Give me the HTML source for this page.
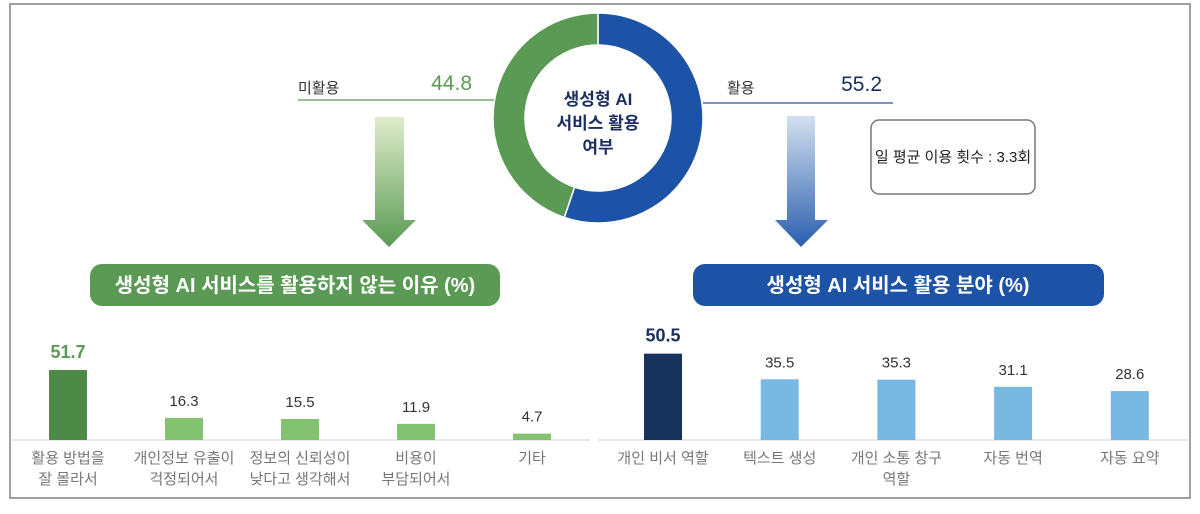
<!DOCTYPE html>
<html><head><meta charset="utf-8"><style>
html,body{margin:0;padding:0;background:#fff;}
body{width:1200px;height:509px;overflow:hidden;font-family:"Liberation Sans","Noto Sans CJK KR",sans-serif;}
</style></head><body>
<svg id="chart" width="1200" height="509" viewBox="0 0 1200 509" xmlns="http://www.w3.org/2000/svg" font-family="Liberation Sans, Noto Sans CJK KR, sans-serif">
<defs>
<linearGradient id="gg" x1="0" y1="0" x2="0" y2="1"><stop offset="0" stop-color="#dfeccb"/><stop offset="1" stop-color="#5b9a55"/></linearGradient>
<linearGradient id="bg" x1="0" y1="0" x2="0" y2="1"><stop offset="0" stop-color="#d3e0f0"/><stop offset="1" stop-color="#2a5eae"/></linearGradient>
</defs>
<rect x="10" y="4" width="1180" height="494" fill="#fff" stroke="#808080" stroke-width="1.5"/>
<g id="donut"></g>
<g fill="#1b2f5e" font-size="17" font-weight="bold" text-anchor="middle">
<text x="598" y="105">생성형 AI</text><text x="598" y="129">서비스 활용</text><text x="598" y="153">여부</text>
</g>
<g>
<text x="298" y="93" font-size="15" fill="#333">미활용</text>
<text x="472" y="90" font-size="21" fill="#5b9a55" text-anchor="end">44.8</text>
<line x1="298" y1="100" x2="494" y2="100" stroke="#7aa872" stroke-width="1.5"/>
</g>
<g>
<text x="727" y="93" font-size="15" fill="#333">활용</text>
<text x="882" y="91" font-size="21" fill="#1b2f5e" text-anchor="end">55.2</text>
<line x1="703" y1="103" x2="893" y2="103" stroke="#4a72b0" stroke-width="1.5"/>
</g>
<path d="M375 117 H404 V220 H416 L389 247 L362 220 H375 Z" fill="url(#gg)"/>
<path d="M787 116 H815 V220 H828 L801 247 L775 220 H787 Z" fill="url(#bg)"/>
<g>
<rect x="871" y="120" width="164" height="74" rx="8" fill="#fff" stroke="#777" stroke-width="1.5"/>
<text x="953" y="162" font-size="15" fill="#222" text-anchor="middle">일 평균 이용 횟수 : 3.3회</text>
</g>
<g>
<rect x="90" y="264" width="410" height="42" rx="12" fill="#5b9a55"/>
<text x="295" y="292" font-size="20" font-weight="bold" fill="#fff" text-anchor="middle">생성형 AI 서비스를 활용하지 않는 이유 (%)</text>
</g>
<g>
<rect x="693" y="264" width="411" height="42" rx="12" fill="#1c53a6"/>
<text x="898" y="292" font-size="20" font-weight="bold" fill="#fff" text-anchor="middle">생성형 AI 서비스 활용 분야 (%)</text>
</g>
<line x1="12" y1="440" x2="590" y2="440" stroke="#d0d0d0"/>
<line x1="598" y1="440" x2="1188" y2="440" stroke="#d0d0d0"/>
<g id="leftBars"></g><g id="rightBars"></g>
</svg>
<script>
const donutLabels=["활용","미활용"];
const donutValues=[55.2,44.8];
const leftCats=[["활용 방법을","잘 몰라서"],["개인정보 유출이","걱정되어서"],["정보의 신뢰성이","낮다고 생각해서"],["비용이","부담되어서"],["기타"]];
const leftValues=[51.7,16.3,15.5,11.9,4.7];
const rightCats=[["개인 비서 역할"],["텍스트 생성"],["개인 소통 창구","역할"],["자동 번역"],["자동 요약"]];
const rightValues=[50.5,35.5,35.3,31.1,28.6];
const NS="http://www.w3.org/2000/svg";
function mk(t,a,p){const e=document.createElementNS(NS,t);for(const k in a)e.setAttribute(k,a[k]);p.appendChild(e);return e;}
(function(){
 const g=document.getElementById('donut');const cx=598,cy=118,R=105,r=73;
 const tot=donutValues.reduce((a,b)=>a+b,0);const cols=["#1c53a6","#5b9a55"];let a0=0;
 donutValues.forEach((v,i)=>{const a1=a0+v/tot*2*Math.PI;
  const p=(a,rad)=>[cx+rad*Math.sin(a),cy-rad*Math.cos(a)];
  const [x1,y1]=p(a0,R),[x2,y2]=p(a1,R),[x3,y3]=p(a1,r),[x4,y4]=p(a0,r);const lg=(a1-a0)>Math.PI?1:0;
  const e=mk('path',{d:`M${x1} ${y1} A${R} ${R} 0 ${lg} 1 ${x2} ${y2} L${x3} ${y3} A${r} ${r} 0 ${lg} 0 ${x4} ${y4} Z`,fill:cols[i],stroke:'#fff','stroke-width':1.5},g);
  
  
  a0=a1;});
})();
function bars(id,cats,vals,x0,step,scale,hiCol,col,hiText){
 const g=document.getElementById(id);const base=440,w=38;
 const x=i=>x0+i*step;const y=v=>base-v*scale;
 vals.forEach((v,i)=>{
  const r=mk('rect',{x:x(i)-w/2,y:y(v),width:w,height:base-y(v),fill:i==0?hiCol:col},g);
  
  
  const t=mk('text',{x:x(i),y:y(v)-12,'font-size':i==0?18:15,'font-weight':i==0?'bold':'normal',fill:i==0?hiText:'#333','text-anchor':'middle'},g);
  t.textContent=v.toFixed(1);
  
  
  cats[i].forEach((ln,j)=>{const c=mk('text',{x:x(i),y:463+j*21,'font-size':15,fill:'#777','text-anchor':'middle'},g);c.textContent=ln;
   
   });
 });
}
bars('leftBars',leftCats,leftValues,68,116,1.354,'#4e8a47','#82c271','#5b9a55');
bars('rightBars',rightCats,rightValues,663,116.7,1.71,'#18325e','#7ab8e4','#1b2f5e');
</script>
</body></html>
